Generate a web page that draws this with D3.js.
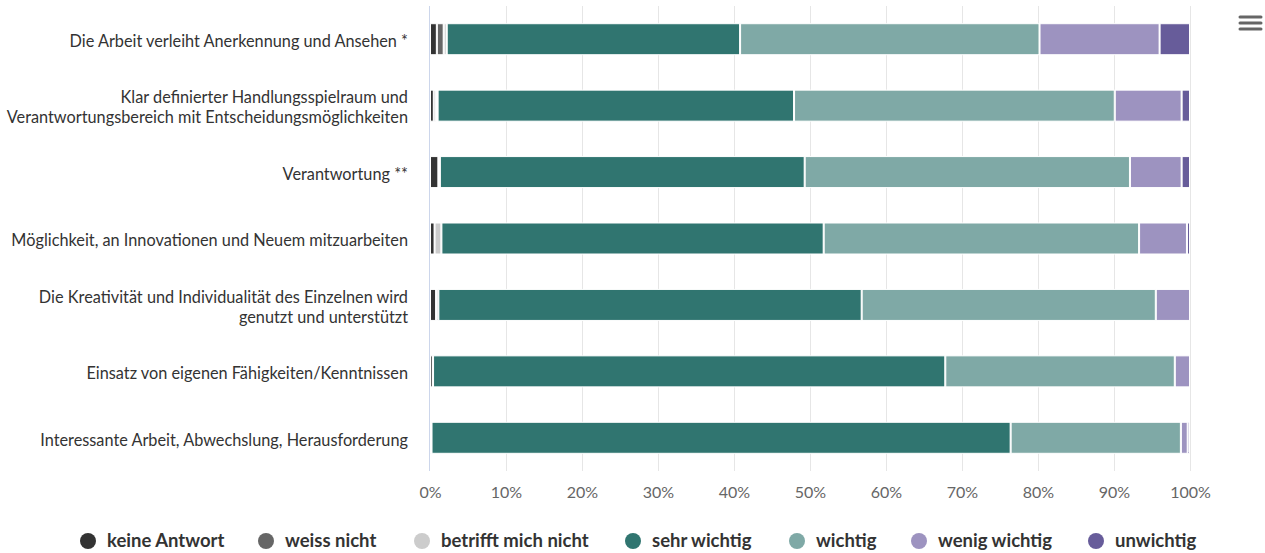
<!DOCTYPE html>
<html>
<head>
<meta charset="utf-8">
<script src="https://cdn.jsdelivr.net/npm/d3@7"></script>
<style>
  body { margin: 0; background: #fff; font-family: Lato, "Open Sans", sans-serif; }
  svg text { font-family: Lato, sans-serif; }
</style>
</head>
<body>
<div id="chart"></div>
<script>
// Categories (top to bottom), multi-line labels split by "\n"
const categories = [
  "Die Arbeit verleiht Anerkennung und Ansehen *",
  "Klar definierter Handlungsspielraum und\nVerantwortungsbereich mit Entscheidungsmöglichkeiten",
  "Verantwortung **",
  "Möglichkeit, an Innovationen und Neuem mitzuarbeiten",
  "Die Kreativität und Individualität des Einzelnen wird\ngenutzt und unterstützt",
  "Einsatz von eigenen Fähigkeiten/Kenntnissen",
  "Interessante Arbeit, Abwechslung, Herausforderung"
];

const seriesNames = ["keine Antwort", "weiss nicht", "betrifft mich nicht", "sehr wichtig", "wichtig", "wenig wichtig", "unwichtig"];
const seriesColors = ["#333333", "#666666", "#cccccc", "#307570", "#7fa9a6", "#9d93c0", "#675c9a"];

// percent values per series, in category order
const keineAntwort = [0.9, 0.5, 1.1, 0.6, 0.8, 0.0, 0.2];
const weissNicht = [0.9, 0.3, 0.0, 0.0, 0.0, 0.4, 0.0];
const betrifftNicht = [0.4, 0.2, 0.2, 0.9, 0.3, 0.0, 0.0];
const sehrWichtig = [38.6, 46.9, 48.0, 50.3, 55.7, 67.4, 76.2];
const wichtig = [39.4, 42.2, 42.8, 41.5, 38.7, 30.2, 22.4];
const wenigWichtig = [15.8, 8.8, 6.8, 6.3, 4.5, 2.0, 0.9];
const unwichtig = [4.0, 1.1, 1.1, 0.4, 0.0, 0.0, 0.3];

const xTicks = [0, 10, 20, 30, 40, 50, 60, 70, 80, 90, 100];

const W = 1265, H = 553;
const plot = { left: 430, right: 1190, top: 6, bottom: 471 };

const svg = d3.select("#chart").append("svg")
  .attr("width", W).attr("height", H);

const rows = categories.map((c, i) => ({
  cat: c,
  "keine Antwort": keineAntwort[i],
  "weiss nicht": weissNicht[i],
  "betrifft mich nicht": betrifftNicht[i],
  "sehr wichtig": sehrWichtig[i],
  "wichtig": wichtig[i],
  "wenig wichtig": wenigWichtig[i],
  "unwichtig": unwichtig[i]
}));

// normalise to 100%
const stacked = d3.stack().keys(seriesNames).offset(d3.stackOffsetExpand)(rows);

const x = d3.scaleLinear().domain([0, 1]).range([plot.left, plot.right]);
const y = d3.scaleBand().domain(categories).range([plot.top, plot.bottom]).paddingInner(0).paddingOuter(0);
const color = d3.scaleOrdinal().domain(seriesNames).range(seriesColors);

// grid lines
svg.append("g").selectAll("line").data(xTicks.slice(1)).join("line")
  .attr("x1", d => x(d / 100) + 0.5).attr("x2", d => x(d / 100) + 0.5)
  .attr("y1", plot.top).attr("y2", plot.bottom)
  .attr("stroke", "#e6e6e6").attr("stroke-width", 1);

// axis line on the left
svg.append("line")
  .attr("x1", plot.left - 0.5).attr("x2", plot.left - 0.5)
  .attr("y1", plot.top).attr("y2", plot.bottom)
  .attr("stroke", "#ccd6eb");

// bars
const barH = 31;
svg.append("g").selectAll("g").data(stacked).join("g")
  .attr("fill", d => color(d.key))
  .selectAll("rect").data(d => d.filter(p => p[1] - p[0] > 0)).join("rect")
  .attr("x", d => x(d[0]) + 0.5)
  .attr("width", d => Math.max(0, x(d[1]) - x(d[0]) - 1))
  .attr("y", d => y(d.data.cat) + y.bandwidth() / 2 - barH / 2)
  .attr("height", barH)
  .attr("stroke", "#fff")
  .attr("stroke-width", 1);

// x tick labels
const xAxis = d3.axisBottom(x).tickValues(xTicks.map(d => d / 100))
  .tickFormat(d => Math.round(d * 100) + "%").tickSize(0).tickPadding(16);
const gx = svg.append("g").attr("transform", `translate(0,${plot.bottom})`).call(xAxis);
gx.select(".domain").remove();
gx.selectAll("text").attr("fill", "#666666").style("font-size", "16px");

// category labels
const labels = svg.append("g").selectAll("text").data(categories).join("text")
  .attr("text-anchor", "end")
  .attr("fill", "#333333")
  .style("font-size", "16.3px")
  .attr("transform", d => `translate(408,${y(d) + y.bandwidth() / 2 + 2})`);
labels.each(function (d) {
  const lines = d.split("\n");
  const t = d3.select(this);
  lines.forEach((ln, j) => {
    t.append("tspan").attr("x", 0)
      .attr("y", (j - (lines.length - 1) / 2) * 20)
      .attr("dy", "0.35em").text(ln);
  });
});

// legend
const legendX = [88, 266, 422, 633, 797, 919, 1096];
const legend = svg.append("g").selectAll("g").data(seriesNames).join("g")
  .attr("transform", (d, i) => `translate(${legendX[i]},541)`);
legend.append("circle").attr("r", 8).attr("fill", d => color(d));
legend.append("text").attr("x", 19).attr("dy", "0.35em")
  .attr("fill", "#333333").style("font-size", "18.5px").style("font-weight", "bold")
  .text(d => d);

// menu icon
svg.append("g").selectAll("line").data([0, 1, 2]).join("line")
  .attr("x1", 1240).attr("x2", 1261)
  .attr("y1", d => 17 + d * 6).attr("y2", d => 17 + d * 6)
  .attr("stroke", "#666666").attr("stroke-width", 3).attr("stroke-linecap", "round");
</script>
</body>
</html>
